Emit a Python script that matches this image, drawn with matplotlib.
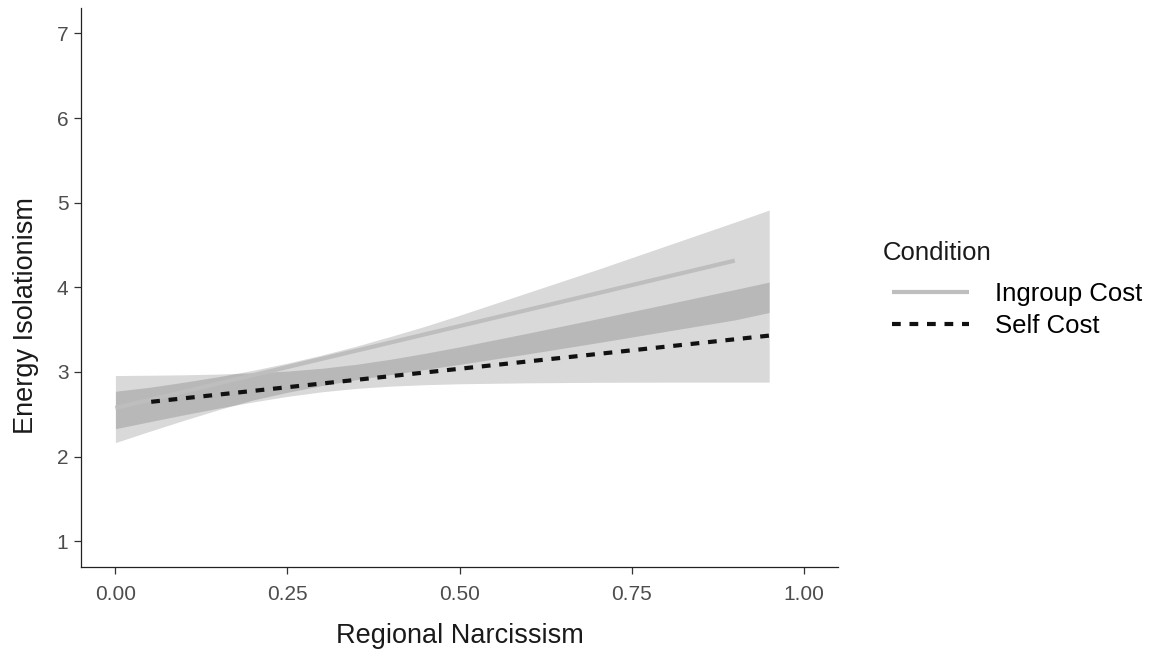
import numpy as np
import matplotlib.pyplot as plt

plt.rcParams['font.family'] = ['Liberation Sans', 'DejaVu Sans']

# confidence bands
band_x = [0.0, 0.05, 0.1, 0.15, 0.2, 0.25, 0.3, 0.35, 0.4, 0.45, 0.5,
          0.6, 0.7, 0.8, 0.9, 0.95]
ingroup_lo = [2.166, 2.30, 2.43, 2.555, 2.67, 2.76, 2.84, 2.91, 2.97, 3.03, 3.09,
              3.215, 3.345, 3.48, 3.615, 3.703]
ingroup_hi = [2.773, 2.82, 2.88, 2.945, 3.02, 3.105, 3.20, 3.305, 3.42, 3.54, 3.67,
              3.94, 4.21, 4.49, 4.77, 4.913]
self_lo = [2.330, 2.413, 2.495, 2.573, 2.646, 2.712, 2.766, 2.806, 2.833, 2.850, 2.861,
           2.872, 2.878, 2.880, 2.880, 2.880]
self_hi = [2.958, 2.962, 2.967, 2.976, 2.990, 3.011, 3.044, 3.091, 3.151, 3.221, 3.297,
           3.460, 3.628, 3.800, 3.974, 4.062]

# fitted lines
ingroup_x = [0.0, 0.9]
ingroup_y = [2.575, 4.316]
self_x = [0.052, 0.95]
self_y = [2.648, 3.43]

x_ticks = [0.0, 0.25, 0.5, 0.75, 1.0]
x_labels = ['0.00', '0.25', '0.50', '0.75', '1.00']
y_ticks = [1, 2, 3, 4, 5, 6, 7]

fig = plt.figure(figsize=(11.57, 6.49), dpi=100)
ax = fig.add_axes([0.070, 0.1268, 0.6543, 0.8609])

ax.fill_between(band_x, ingroup_lo, ingroup_hi, color='black', alpha=0.15, linewidth=0)
ax.fill_between(band_x, self_lo, self_hi, color='black', alpha=0.15, linewidth=0)

ax.plot(ingroup_x, ingroup_y, color='#bebebe', lw=3.0, solid_capstyle='butt', label='Ingroup Cost')
ax.plot(self_x, self_y, color='#111111', lw=3.0, dashes=(2.1, 2.1), dash_capstyle='butt', label='Self Cost')

ax.set_xlim(-0.05, 1.05)
ax.set_ylim(0.7, 7.3)
ax.set_xticks(x_ticks)
ax.set_xticklabels(x_labels)
ax.set_yticks(y_ticks)

for s in ['top', 'right']:
    ax.spines[s].set_visible(False)
for s in ['left', 'bottom']:
    ax.spines[s].set_linewidth(0.9)
    ax.spines[s].set_color('#222222')
ax.tick_params(length=5, width=0.9, color='#333333', labelcolor='#4d4d4d', labelsize=15)
ax.tick_params(axis='x', pad=8)
ax.tick_params(axis='y', pad=4)

ax.set_xlabel('Regional Narcissism', fontsize=19.5, color='#1a1a1a', labelpad=13.5)
ax.set_ylabel('Energy Isolationism', fontsize=19.5, color='#1a1a1a')
ax.yaxis.set_label_coords(-0.0555, 0.45)

# legend title drawn on its own so it sits left of the keys, as in ggplot
fig.text(883 / 1157, 1 - 253 / 649, 'Condition', fontsize=18.5, color='#1a1a1a',
         ha='left', va='center')
leg = ax.legend(loc='upper left', bbox_to_anchor=(1.0716, 0.509),
                frameon=False, fontsize=18.5, borderpad=0, borderaxespad=0,
                handlelength=3.0, handletextpad=1.0, labelspacing=0.28)

fig.savefig('out.png', dpi=100)
